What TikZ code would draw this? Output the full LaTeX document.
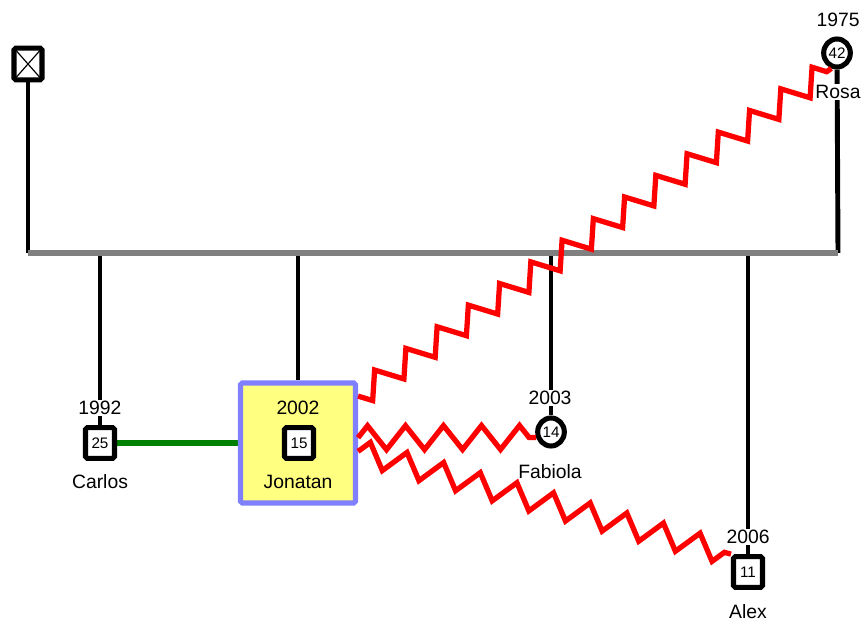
\documentclass[tikz,border=0pt]{standalone}
\usepackage{fontspec}
\setmainfont{Liberation Sans}
\usetikzlibrary{calc,backgrounds,shapes.geometric,decorations.pathmorphing}
\definecolor{boxyellow}{RGB}{255,255,128}
\definecolor{boxblue}{RGB}{128,128,255}
\definecolor{kingreen}{RGB}{0,128,0}
\definecolor{linegray}{RGB}{128,128,128}

\begin{document}
\begin{tikzpicture}[x=0.03cm,y=-0.03cm,
    male/.style={draw, line width=4.3pt, rounded corners=1.5pt, fill=white,
      minimum width=0.87cm, minimum height=0.92cm, inner sep=0pt,
      font=\fontsize{13}{14}\selectfont},
    female/.style={ellipse, draw, line width=4.3pt, fill=white,
      minimum width=0.8cm, minimum height=0.84cm, inner sep=0pt,
      font=\fontsize{13}{14}\selectfont},
    tag/.style={fill=white, inner sep=1pt, font=\fontsize{16.5}{18}\selectfont},
    drop/.style={line width=4.2pt},
    marriage/.style={line width=5.1pt, draw=linegray},
    kin/.style={line width=5pt, draw=kingreen},
    conflict/.style={draw=red, line width=4.5pt,
      decorate, decoration={zigzag, segment length=1.14cm, amplitude=0.36cm}}]
  \useasboundingbox (0,0) rectangle (864,624);
  \def\my{253}
  %Parents
  \node[male, minimum width=0.84cm, minimum height=0.95cm, path picture={
      \draw[line width=1pt] (path picture bounding box.north west) -- (path picture bounding box.south east);
      \draw[line width=1pt] (path picture bounding box.south west) -- (path picture bounding box.north east);}]
    (father) at (28,64) {};
  \node[female] (rosa) at (837,53) {42};
  \coordinate (mf) at (28,\my);
  \coordinate (mr) at (838,\my);
  %Children
  \node[male] (carlos) at (100,443) {25};
  \node[draw=boxblue, fill=boxyellow, line width=4.3pt, rounded corners=1.5pt,
    minimum width=3.45cm, minimum height=3.6cm] (jonbox) at (298,443) {};
  \node[male] (jonatan) at (299,443) {15};
  \node[female] (fabiola) at (551,432) {14};
  \node[male] (alex) at (748,572) {11};
  %Years and names
  \node[tag] (rosayr) at (838,20) {1975};
  \node[tag] (rosaname) at (838,92) {Rosa};
  \node[tag] (carlosyr) at (100,408) {1992};
  \node[tag] (carlosname) at (100,482) {Carlos};
  \node[tag, fill=none] (jonatanyr) at (298,408) {2002};
  \node[tag, fill=none] (jonatanname) at (298,482) {Jonatan};
  \node[tag] (fabiolayr) at (550,398) {2003};
  \node[tag] (fabiolaname) at (550,472) {Fabiola};
  \node[tag] (alexyr) at (748,537) {2006};
  \node[tag] (alexname) at (748,612) {Alex};
  %Family lines
  \begin{scope}[on background layer]
    \draw[drop] (father) -- (mf);
    \draw[drop] (rosa) -- (mr);
    \draw[drop] (carlos |- mf) -- (carlos);
    \draw[drop] (jonbox |- mf) -- (jonbox);
    \draw[drop] (fabiola |- mf) -- (fabiola);
    \draw[drop] (alex |- mf) -- (alex);
    \draw[marriage] (mf) -- (mr);
    \draw[kin] (carlos) -- (jonbox);
  \end{scope}
  %Conflicts
  \draw[conflict, decoration={mirror}] (jonbox.38) -- (rosa.250);
  \draw[conflict] (jonbox.5) -- (fabiola.200);
  \draw[conflict] (jonbox.352) -- (alex.north west);
\end{tikzpicture}
\end{document}
